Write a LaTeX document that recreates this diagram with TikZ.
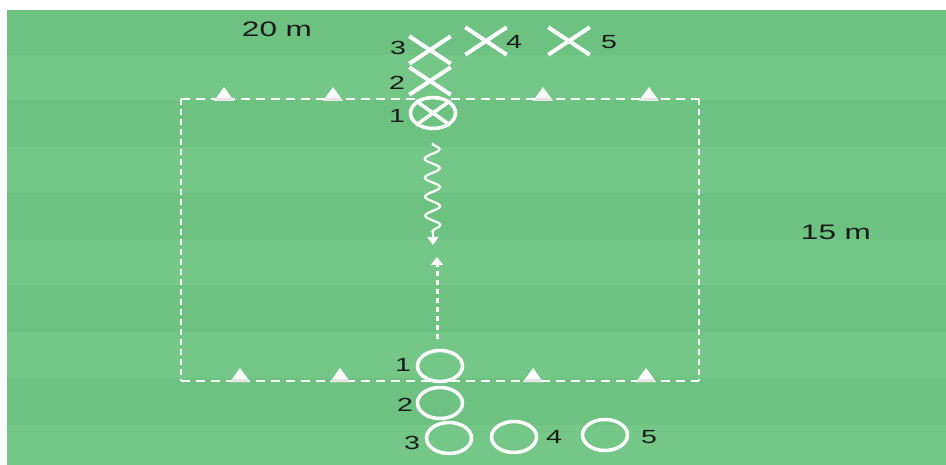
\documentclass[tikz,border=0pt]{standalone}
\usepackage{fontspec}
\setmainfont{Liberation Sans}
\usetikzlibrary{decorations.pathmorphing,arrows.meta,shapes.geometric,calc}
\definecolor{fieldA}{HTML}{6EC281}
\definecolor{fieldB}{HTML}{74C786}
\definecolor{ink}{HTML}{1A1A1A}
\begin{document}
\begin{tikzpicture}[x=1pt,y=-1pt,
  lab/.style={text=ink,font=\fontsize{19}{19}\selectfont,xscale=1.5,inner sep=0pt},
  biglab/.style={text=ink,font=\fontsize{21}{21}\selectfont,xscale=1.5,inner sep=0pt},
  oplayer/.style={ellipse,draw=white,line width=3.5pt,minimum width=45pt,minimum height=31pt,inner sep=0pt},
  xplayer/.style={rectangle,minimum width=41pt,minimum height=27pt,inner sep=0pt},
  xline/.style={white,line width=4pt},
  fieldline/.style={white,line width=2.4pt},
  cone/.pic={\fill[white] (-10,0) -- (0,-14) -- (10,0) -- cycle;
             \fill[gray!20] (-10,0) -- (-7,-3) -- (7,-3) -- (10,0) -- cycle;},
  wavy/.style={white,line width=2.2pt,decorate,
    decoration={snake,segment length=19pt,amplitude=7.5pt,post length=9pt},
    -{Triangle[width=11pt,length=8pt]}},
  runarrow/.style={white,line width=3pt,dash pattern=on 5pt off 4pt,
    -{Triangle[width=12pt,length=8pt]}}
]
\useasboundingbox (0,0) rectangle (946,465);
\fill[white] (0,0) rectangle (946,465);
% field with stripes
\fill[fieldB] (7,10) rectangle (946,465);
\foreach \a/\b in {10/55,100/147,193/240,285/332,378/425}
  \fill[fieldA] (7,\a) rectangle (946,\b);
% dashed area
\coordinate (tl) at (181,99);
\coordinate (tr) at (699,99);
\coordinate (br) at (699,381);
\coordinate (bl) at (181,381);
\draw[fieldline,dash pattern=on 9pt off 6pt] (tl) -- (tr);
\draw[fieldline,dash pattern=on 9pt off 6pt] (bl) -- (br);
\draw[fieldline,dash pattern=on 6pt off 4pt] (tl) -- (bl);
\draw[fieldline,dash pattern=on 6pt off 4pt] (tr) -- (br);
% cones
\foreach \x in {224,333,543,649} \pic at (\x,101) {cone};
\foreach \x in {240,340,533,646} \pic at (\x,382) {cone};
% dimension labels
\node[biglab] (w20) at (277,29) {20 m};
\node[biglab] (h15) at (836,232) {15 m};
% X team
\node[xplayer] (x3) at (430,50) {};
\node[xplayer] (x2) at (430,81) {};
\node[xplayer] (x4) at (486,41) {};
\node[xplayer] (x5) at (569,41) {};
\foreach \n in {x2,x3,x4,x5} {
  \draw[xline] (\n.north west) -- (\n.south east);
  \draw[xline] (\n.south west) -- (\n.north east);
}
\node[oplayer] (p1) at (433,113) {};
\draw[xline,line width=3.5pt] (p1.north west) -- (p1.south east);
\draw[xline,line width=3.5pt] (p1.south west) -- (p1.north east);
\node[lab] (lx3) at (398,48) {3};
\node[lab] (lx4) at (514,42) {4};
\node[lab] (lx5) at (609,42) {5};
\node[lab] (lx2) at (397,83) {2};
\node[lab] (lx1) at (397,116) {1};
% O team
\node[oplayer] (o1) at (440,366) {};
\node[oplayer] (o2) at (440,403) {};
\node[oplayer] (o3) at (449,438) {};
\node[oplayer] (o4) at (514,437) {};
\node[oplayer] (o5) at (605,435) {};
\node[lab] (lo1) at (403,365) {1};
\node[lab] (lo2) at (405,405) {2};
\node[lab] (lo3) at (412,443) {3};
\node[lab] (lo4) at (554,437) {4};
\node[lab] (lo5) at (649,437) {5};
% actions
\coordinate (dribend) at (433,245);
\draw[wavy] ($(p1.south)+(-1,13)$) -- (dribend);
\coordinate (runend) at (437,257);
\draw[runarrow] ($(o1.north)+(-3,-10)$) -- (runend);
\end{tikzpicture}
\end{document}
